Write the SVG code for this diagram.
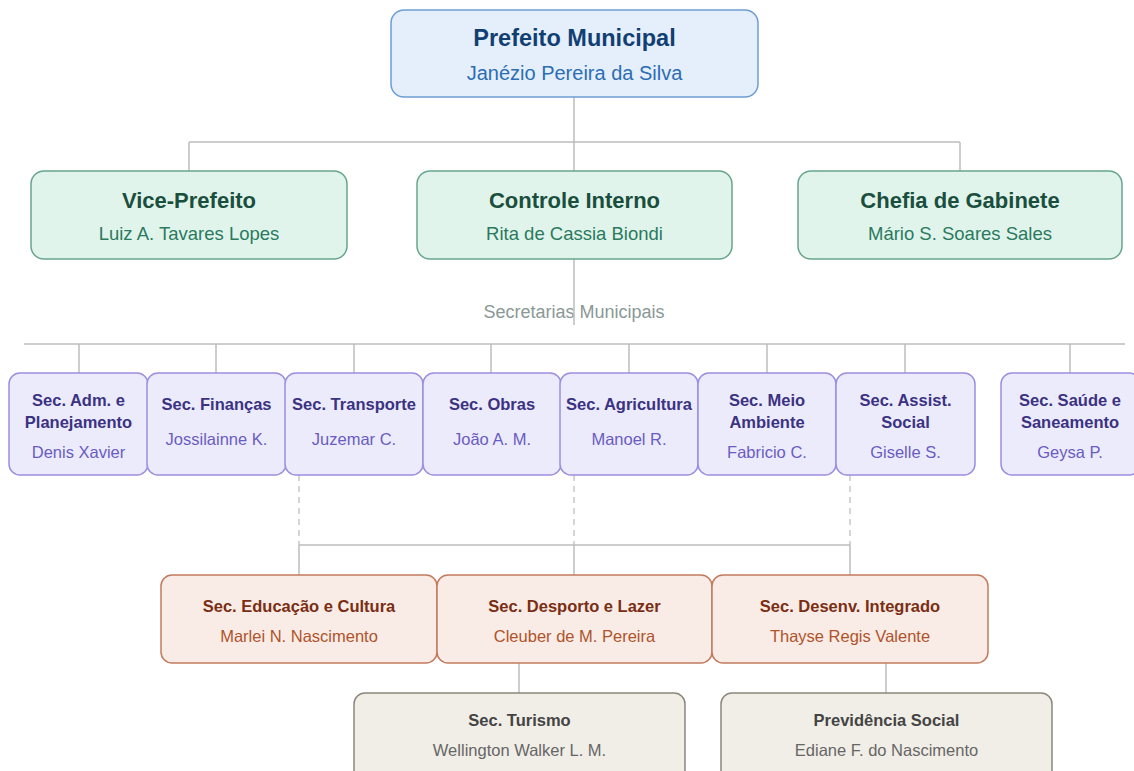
<svg xmlns="http://www.w3.org/2000/svg" width="1134" height="771" viewBox="0 0 1134 771">
<style>
text{font-family:"Liberation Sans",Arial,sans-serif;text-anchor:middle}
.c{fill:none;stroke:#bdbdbd;stroke-width:1.5}
.d{fill:none;stroke:#c8c8c8;stroke-width:1.5;stroke-dasharray:6 5}
.top rect{fill:#e4effb;stroke:#6d9dd3;stroke-width:1.5}
.top .t{font-size:23.5px;font-weight:bold;fill:#123f73}
.top .s{font-size:20px;fill:#2c6db3}
.l2 rect{fill:#e1f4ec;stroke:#67a58d;stroke-width:1.5}
.l2 .t{font-size:22px;font-weight:bold;fill:#1a4e3d}
.l2 .s{font-size:18.5px;fill:#2a7a5d}
.sec rect{fill:#ecebfc;stroke:#9b8fe0;stroke-width:1.5}
.sec .t{font-size:16.5px;font-weight:bold;fill:#3b3282}
.sec .s{font-size:16.5px;fill:#6a5cc2}
.l4 rect{fill:#f9ece6;stroke:#c27b5f;stroke-width:1.5}
.l4 .t{font-size:16.5px;font-weight:bold;fill:#7a2e14}
.l4 .s{font-size:16.5px;fill:#b0532b}
.l5 rect{fill:#f1eee7;stroke:#8c877c;stroke-width:1.5}
.l5 .t{font-size:16.5px;font-weight:bold;fill:#444}
.l5 .s{font-size:16.5px;fill:#666}
.lbl{font-size:18px;fill:#8a9896}
</style>
<rect width="1134" height="771" fill="#fff"/>
<text class="lbl" x="574" y="318">Secretarias Municipais</text>
<g id="connectors">
<path class="c" d="M574 97V171M189 142H960M189 142V171M960 142V171"/>
<path class="c" d="M574 259V325"/>
<path class="c" d="M24 344H1125M79 344V373M216 344V373M354 344V373M491 344V373M629 344V373M767 344V373M905 344V373M1070 344V373"/>
<path class="d" d="M299 475V545M574 475V545M850 475V545"/>
<path class="c" d="M299 545H850M299 545V575M574 545V575M850 545V575"/>
<path class="c" d="M519 663V693M886 663V693"/>
</g>
<g id="prefeito" class="top"><rect x="391" y="10" width="367" height="87" rx="13"/><text class="t" x="574.5" y="46">Prefeito Municipal</text><text class="s" x="574.5" y="80">Janézio Pereira da Silva</text></g>
<g id="vice" class="l2"><rect x="31" y="171" width="316" height="88" rx="13"/><text class="t" x="189" y="207.5">Vice-Prefeito</text><text class="s" x="189" y="239.5">Luiz A. Tavares Lopes</text></g>
<g id="controle" class="l2"><rect x="417" y="171" width="315" height="88" rx="13"/><text class="t" x="574.5" y="207.5">Controle Interno</text><text class="s" x="574.5" y="239.5">Rita de Cassia Biondi</text></g>
<g id="chefia" class="l2"><rect x="798" y="171" width="324" height="88" rx="13"/><text class="t" x="960" y="207.5">Chefia de Gabinete</text><text class="s" x="960" y="239.5">Mário S. Soares Sales</text></g>
<g id="adm" class="sec"><rect x="9" y="373" width="139" height="102" rx="11"/><text class="t" x="78.5" y="406">Sec. Adm. e</text><text class="t" x="78.5" y="428">Planejamento</text><text class="s" x="78.5" y="458">Denis Xavier</text></g>
<g id="financas" class="sec"><rect x="147" y="373" width="139" height="102" rx="11"/><text class="t" x="216.5" y="410">Sec. Finanças</text><text class="s" x="216.5" y="445">Jossilainne K.</text></g>
<g id="transporte" class="sec"><rect x="285" y="373" width="138" height="102" rx="11"/><text class="t" x="354" y="410">Sec. Transporte</text><text class="s" x="354" y="445">Juzemar C.</text></g>
<g id="obras" class="sec"><rect x="423" y="373" width="138" height="102" rx="11"/><text class="t" x="492" y="410">Sec. Obras</text><text class="s" x="492" y="445">João A. M.</text></g>
<g id="agricultura" class="sec"><rect x="560" y="373" width="138" height="102" rx="11"/><text class="t" x="629" y="410">Sec. Agricultura</text><text class="s" x="629" y="445">Manoel R.</text></g>
<g id="meioambiente" class="sec"><rect x="698" y="373" width="138" height="102" rx="11"/><text class="t" x="767" y="406">Sec. Meio</text><text class="t" x="767" y="428">Ambiente</text><text class="s" x="767" y="458">Fabricio C.</text></g>
<g id="assist" class="sec"><rect x="836" y="373" width="139" height="102" rx="11"/><text class="t" x="905.5" y="406">Sec. Assist.</text><text class="t" x="905.5" y="428">Social</text><text class="s" x="905.5" y="458">Giselle S.</text></g>
<g id="saude" class="sec"><rect x="1001" y="373" width="139" height="102" rx="11"/><text class="t" x="1070" y="406">Sec. Saúde e</text><text class="t" x="1070" y="428">Saneamento</text><text class="s" x="1070" y="458">Geysa P.</text></g>
<g id="educacao" class="l4"><rect x="161" y="575" width="276" height="88" rx="11"/><text class="t" x="299" y="612">Sec. Educação e Cultura</text><text class="s" x="299" y="642">Marlei N. Nascimento</text></g>
<g id="desporto" class="l4"><rect x="437" y="575" width="275" height="88" rx="11"/><text class="t" x="574.5" y="612">Sec. Desporto e Lazer</text><text class="s" x="574.5" y="642">Cleuber de M. Pereira</text></g>
<g id="desenv" class="l4"><rect x="712" y="575" width="276" height="88" rx="11"/><text class="t" x="850" y="612">Sec. Desenv. Integrado</text><text class="s" x="850" y="642">Thayse Regis Valente</text></g>
<g id="turismo" class="l5"><rect x="354" y="693" width="331" height="90" rx="11"/><text class="t" x="519.5" y="726">Sec. Turismo</text><text class="s" x="519.5" y="756">Wellington Walker L. M.</text></g>
<g id="previdencia" class="l5"><rect x="721" y="693" width="331" height="90" rx="11"/><text class="t" x="886.5" y="726">Previdência Social</text><text class="s" x="886.5" y="756">Ediane F. do Nascimento</text></g>
</svg>
